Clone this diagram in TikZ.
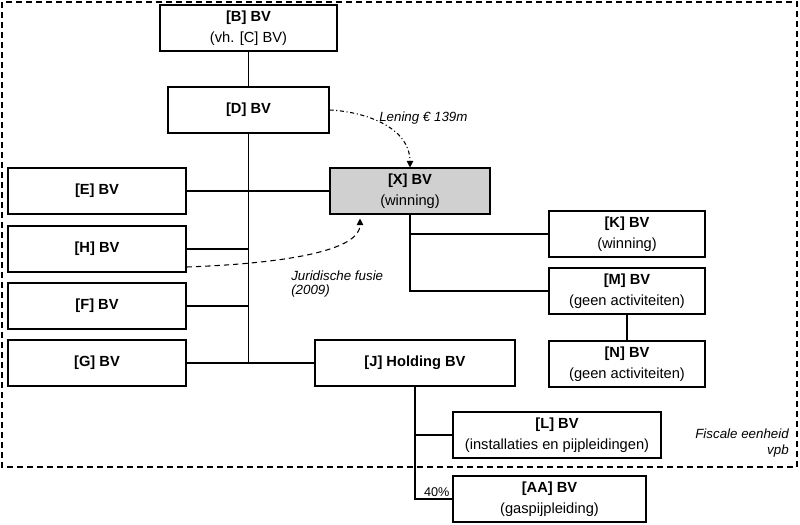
\documentclass[tikz,border=0pt]{standalone}
\usepackage{fontspec}
\setmainfont{Liberation Sans}
\usetikzlibrary{arrows.meta}
\usetikzlibrary{calc, positioning}
\definecolor{winfill}{RGB}{208,208,208}

\begin{document}
\begin{tikzpicture}[x=0.75pt, y=-0.75pt,
    box/.style={draw, fill=white, line width=0.8pt, align=center, inner sep=0pt,
        minimum height=34.5pt, minimum width=#1, font=\fontsize{11}{16}\selectfont},
    note/.style={inner sep=0pt, font=\fontsize{10}{10.5}\selectfont\itshape},
    link/.style={line width=0.8pt},
    tip/.style={-{Triangle[width=5pt,length=5pt]}}]
    \useasboundingbox (0,0) rectangle (800,525);

    % fiscale eenheid
    \draw[line width=1pt, dash pattern=on 4.5pt off 3pt] (2,2) rectangle (797,467);
    \node[note, align=right, anchor=east, font=\fontsize{10}{12}\selectfont\itshape] (fiscaal) at (789,443) {Fiscale eenheid\\vpb};

    \node[box=132.75pt] (B) at (248.5,28) {\textbf{[B] BV}\\(vh. [C] BV)};
    \node[box=120.75pt] (D) at (248.5,110) {\textbf{[D] BV}};
    \node[box=133.5pt] (E) at (97,191) {\textbf{[E] BV}};
    \node[box=133.5pt] (H) at (97,249) {\textbf{[H] BV}};
    \node[box=133.5pt] (F) at (97,306) {\textbf{[F] BV}};
    \node[box=133.5pt] (G) at (97,363) {\textbf{[G] BV}};
    \node[box=120pt, fill=winfill] (X) at (410,191) {\textbf{[X] BV}\\(winning)};
    \node[box=117pt] (K) at (627,234) {\textbf{[K] BV}\\(winning)};
    \node[box=117pt] (M) at (627,291) {\textbf{[M] BV}\\(geen activiteiten)};
    \node[box=117pt] (N) at (627,364) {\textbf{[N] BV}\\(geen activiteiten)};
    \node[box=150pt] (J) at (415,363) {\textbf{[J] Holding BV}};
    \node[box=156pt] (L) at (557,435) {\textbf{[L] BV}\\(installaties en pijpleidingen)};
    \node[box=144.75pt] (AA) at (549.5,499) {\textbf{[AA] BV}\\(gaspijpleiding)};

    \draw[link] (B) -- (D);
    \draw[link] (D) -- (D |- G);
    \draw[link] (E) -- (X);
    \draw[link] (H.east) -- (H.east -| D.south);
    \draw[link] (F.east) -- (F.east -| D.south);
    \draw[link] (G) -- (J);
    \draw[link] (X.south) |- (K.west);
    \draw[link] (X.south) |- (M.west);
    \draw[link] (M) -- (N);
    \draw[link] (J.south) |- (L.west);
    \draw[link] (J.south) |- node[pos=0.79, above, inner sep=1.5pt, font=\fontsize{9.5}{10}\selectfont] (aandeel) {40\%} (AA.west);

    % lening en fusie
    \draw[link, dash pattern=on 3pt off 2pt on 0.8pt off 2pt, tip] (D.east)
        .. controls ($(D.east)+(40,2)$) and ($(X.north)+(0,-38)$) .. (X.north);
    \node[note, anchor=west] (lening) at (379,118) {Lening € 139m};
    \draw[link, dash pattern=on 4pt off 3pt, tip] ($(H.east)+(0,18)$)
        .. controls ($(H.east)+(110,14)$) and ($(X.south)+(-50,34)$) .. ($(X.south)+(-50,4)$);
    \node[note, align=left, anchor=west] (fusie) at (291,284) {Juridische fusie\\(2009)};
\end{tikzpicture}
\end{document}
